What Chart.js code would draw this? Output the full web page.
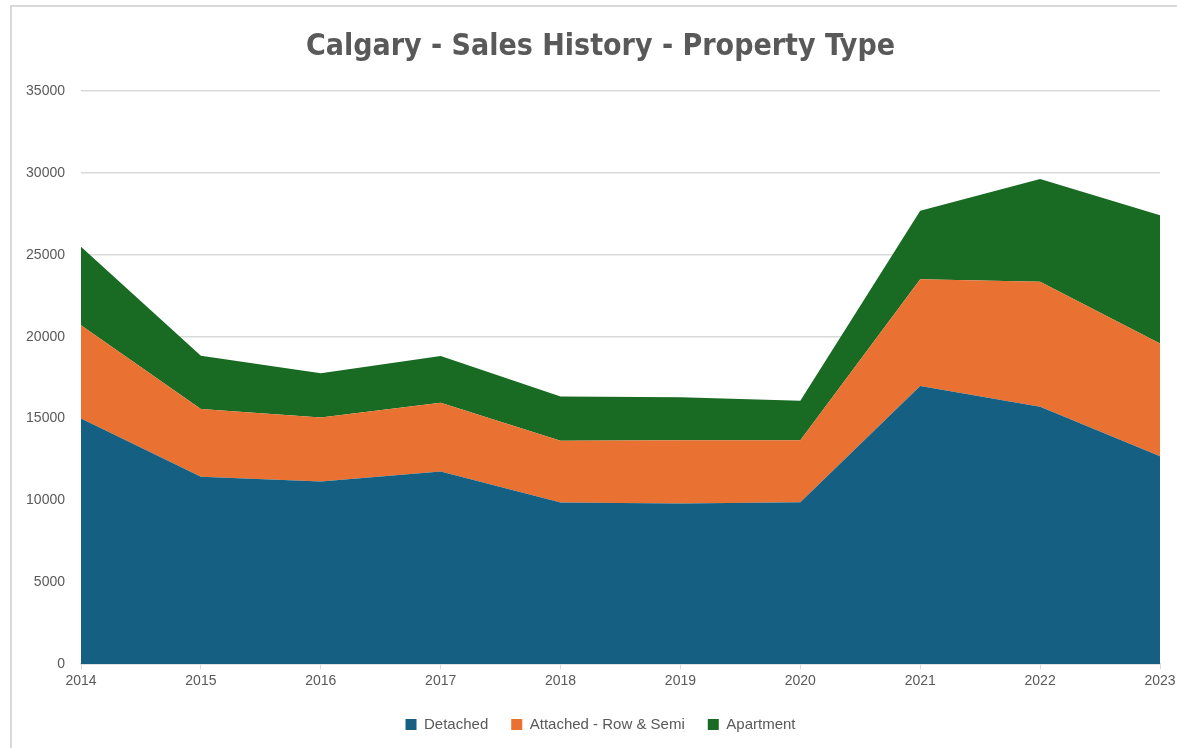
<!DOCTYPE html>
<html lang="en">
<head>
  <meta charset="UTF-8" />
  <title>Calgary - Sales History - Property Type</title>
  <script src="https://cdn.jsdelivr.net/npm/chart.js"></script>
  <style>
    html, body { margin: 0; padding: 0; background: #fff; }
    .marco {
      position: absolute; left: 10px; top: 5px; right: 0; bottom: 0;
      border-left: 2px solid #d9d9d9; border-top: 2px solid #d9d9d9;
    }
    #contenedor { position: absolute; left: 0; top: 0; width: 1177px; height: 748px; }
  </style>
</head>
<body>
  <div class="marco"></div>
  <div id="contenedor">
    <canvas id="graficoVentas" width="1177" height="748"></canvas>
  </div>

  <script>
    const years = ['2014', '2015', '2016', '2017', '2018', '2019', '2020', '2021', '2022', '2023'];
    const detached = [15000, 11440, 11160, 11760, 9880, 9820, 9890, 16980, 15720, 12700];
    const attached = [5690, 4140, 3910, 4210, 3760, 3850, 3790, 6520, 7640, 6880];
    const apartment = [4800, 3250, 2700, 2850, 2710, 2630, 2400, 4190, 6270, 7840];
    const yTicks = [0, 5000, 10000, 15000, 20000, 25000, 30000, 35000];

    const gris = '#595959';
    const linea = '#d9d9d9';

    function serie(label, data, color, fill) {
      return {
        label: label,
        data: data,
        backgroundColor: color,
        borderColor: color,
        borderWidth: 0,
        pointRadius: 0,
        pointHoverRadius: 0,
        fill: fill,
        tension: 0
      };
    }

    const ctx = document.getElementById('graficoVentas').getContext('2d');
    new Chart(ctx, {
      type: 'line',
      data: {
        labels: years,
        datasets: [
          serie('Detached', detached, '#156082', 'origin'),
          serie('Attached - Row & Semi', attached, '#E97132', '-1'),
          serie('Apartment', apartment, '#196B24', '-1')
        ]
      },
      options: {
        responsive: false,
        animation: false,
        layout: { padding: { top: 12, left: 24, right: 0, bottom: 6 } },
        plugins: {
          title: {
            display: true,
            text: 'Calgary - Sales History - Property Type',
            color: gris,
            font: { family: "'Liberation Sans Narrow', 'DejaVu Sans Condensed', sans-serif", size: 30, weight: 'bold' },
            padding: { top: 17, bottom: 26 }
          },
          legend: {
            position: 'bottom',
            labels: {
              color: gris,
              boxWidth: 11,
              boxHeight: 11,
              padding: 23,
              font: { family: "'Liberation Sans', sans-serif", size: 15 }
            }
          },
          tooltip: { enabled: true }
        },
        scales: {
          x: {
            offset: false,
            afterFit: (s) => { s.paddingRight = 17; },
            grid: { drawOnChartArea: false, color: linea, tickLength: 5 },
            border: { color: linea, width: 1.5 },
            ticks: { color: gris, padding: 4, font: { family: "'Liberation Sans', sans-serif", size: 14 } }
          },
          y: {
            stacked: true,
            min: 0,
            max: 35000,
            afterBuildTicks: (s) => { s.ticks = yTicks.map(v => ({ value: v })); },
            afterFit: (s) => { s.width = 57; },
            grid: { color: linea, lineWidth: 1.5, drawTicks: false },
            border: { display: false },
            ticks: {
              color: gris,
              padding: 16,
              font: { family: "'Liberation Sans', sans-serif", size: 14 },
              callback: (v) => String(v)
            }
          }
        }
      }
    });
  </script>
</body>
</html>
